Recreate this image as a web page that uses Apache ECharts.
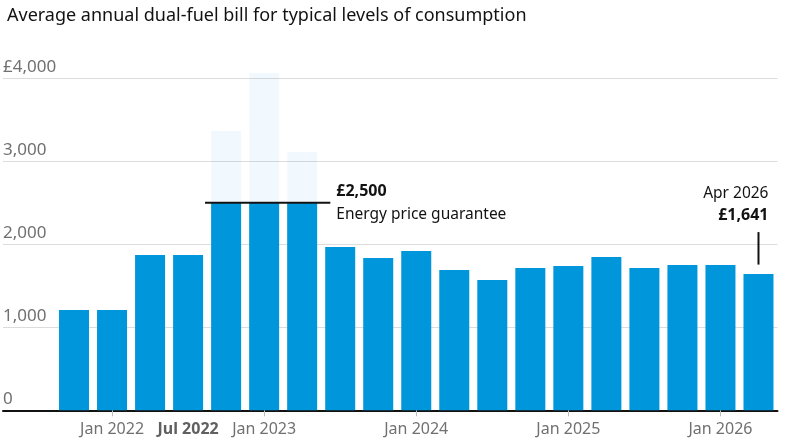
<!DOCTYPE html>
<html><head><meta charset="utf-8">
<script src="https://cdn.jsdelivr.net/npm/echarts@6/dist/echarts.min.js"></script>
<style>html,body{margin:0;padding:0;background:#fff}#c{width:787px;height:445px}</style>
</head><body><div id="c"></div>
<script>
const titleText = "Average annual dual-fuel bill for typical levels of consumption";
const categories = ["Oct 2021","Jan 2022","Apr 2022","Jul 2022","Oct 2022","Jan 2023","Apr 2023","Jul 2023","Oct 2023","Jan 2024","Apr 2024","Jul 2024","Oct 2024","Jan 2025","Apr 2025","Jul 2025","Oct 2025","Jan 2026","Apr 2026"];
const billValues = [1208,1208,1872,1872,2500,2500,2500,1967,1835,1920,1690,1570,1714,1739,1847,1714,1751,1751,1641];
const uncappedValues = [null,null,null,null,3365,4064,3112,null,null,null,null,null,null,null,null,null,null,null,null];
const yTicks = [0,1000,2000,3000,4000];
const labelCategories = ["Jan 2022","Jul 2022","Jan 2023","Jan 2024","Jan 2025","Jan 2026"];
const boldCategories = ["Jul 2022"];
const tickCategories = ["Jan 2022","Jan 2023","Jan 2024","Jan 2025","Jan 2026"];
const epgRange = [4, 6];
const epgValue = 2500;
const epgLabels = ["£2,500", "Energy price guarantee"];
const latestIndex = 18;
const latestValue = 1641;
const latestLabels = ["Apr 2026", "£1,641"];

const FONT = '"Noto Sans", sans-serif';
const chart = echarts.init(document.getElementById('c'), null, {renderer: 'canvas'});

function fmtY(v) {
  const s = v.toLocaleString('en-GB');
  return v === yTicks[yTicks.length - 1] ? '£' + s : s;
}

const gridTop = 78.3, gridBottom = 445 - 410.3;

chart.setOption({
  animation: false,
  title: {
    text: titleText, left: 2, top: 2,
    textStyle: {fontFamily: FONT, fontSize: 18, fontWeight: 'normal', color: '#121212'}
  },
  grid: [
    {left: 3, right: 9.5, top: gridTop, bottom: gridBottom},
    {left: 55, right: 9.5, top: gridTop, bottom: gridBottom}
  ],
  xAxis: [
    {type: 'value', gridIndex: 0, min: 0, max: 1,
     axisLine: {show: true, lineStyle: {color: '#121212', width: 2}},
     axisTick: {show: false}, axisLabel: {show: false}, splitLine: {show: false}},
    {type: 'category', gridIndex: 1, data: categories,
     axisLine: {show: false},
     axisTick: {show: true, alignWithLabel: true, length: 6,
                interval: (i, v) => tickCategories.includes(v),
                lineStyle: {color: '#bdbdbd', width: 1}},
     axisLabel: {interval: (i, v) => labelCategories.includes(v), margin: 11,
                 fontFamily: FONT, fontSize: 16, color: '#707070',
                 formatter: v => boldCategories.includes(v) ? '{b|' + v + '}' : v,
                 rich: {b: {fontFamily: FONT, fontSize: 16, fontWeight: 'bold', color: '#606060'}}},
     splitLine: {show: false}}
  ],
  yAxis: [
    {type: 'value', gridIndex: 0, min: 0, max: 4000, interval: 1000,
     axisLine: {show: false}, axisTick: {show: false},
     splitLine: {show: true, lineStyle: {color: '#dcdcdc', width: 1}},
     axisLabel: {inside: true, margin: 0, verticalAlign: 'bottom', align: 'left',
                 padding: [0, 0, 3, 0], lineHeight: 17,
                 fontFamily: FONT, fontSize: 17, color: '#707070', formatter: fmtY}},
    {type: 'value', gridIndex: 1, min: 0, max: 4000, interval: 1000, show: false}
  ],
  series: [
    {type: 'bar', name: 'uncapped', xAxisIndex: 1, yAxisIndex: 1, data: uncappedValues,
     barWidth: 30, barGap: '-100%', clip: false, itemStyle: {color: 'rgba(0,140,230,0.055)'}, silent: true},
    {type: 'bar', name: 'bill', xAxisIndex: 1, yAxisIndex: 1, data: billValues,
     barWidth: 30, barGap: '-100%', itemStyle: {color: '#0096db'}},
    {type: 'custom', xAxisIndex: 1, yAxisIndex: 1, z: 10,
     data: [[epgRange[0], epgRange[1], epgValue]],
     encode: {x: [0, 1], y: 2},
     renderItem: (params, api) => {
       const a = api.coord([api.value(0), api.value(2)]);
       const b = api.coord([api.value(1), api.value(2)]);
       const band = api.size([1, 0])[0];
       const x1 = a[0] - band * 0.555, x2 = b[0] + band * 0.74;
       const y = a[1];
       return {type: 'group', children: [
         {type: 'line', shape: {x1: x1, y1: y, x2: x2, y2: y}, style: {stroke: '#121212', lineWidth: 2}},
         {type: 'text', style: {text: epgLabels[0], x: x2 + 6, y: y - 11.5, align: 'left', verticalAlign: 'middle',
           fontFamily: FONT, fontSize: 16, fontWeight: 'bold', fill: '#121212'}},
         {type: 'text', style: {text: epgLabels[1], x: x2 + 6, y: y + 12, align: 'left', verticalAlign: 'middle',
           fontFamily: FONT, fontSize: 15.5, fill: '#121212'}}
       ]};
     }},
    {type: 'custom', xAxisIndex: 1, yAxisIndex: 1, z: 10,
     data: [[latestIndex, latestValue]],
     encode: {x: 0, y: 1},
     renderItem: (params, api) => {
       const p = api.coord([api.value(0), api.value(1)]);
       const x = p[0], top = p[1];
       return {type: 'group', children: [
         {type: 'line', shape: {x1: x, y1: top - 9.5, x2: x, y2: top - 42}, style: {stroke: '#121212', lineWidth: 2}},
         {type: 'text', style: {text: latestLabels[0], x: x + 10, y: top - 81, align: 'right', verticalAlign: 'middle',
           fontFamily: FONT, fontSize: 15.5, fill: '#121212'}},
         {type: 'text', style: {text: latestLabels[1], x: x + 10, y: top - 58.5, align: 'right', verticalAlign: 'middle',
           fontFamily: FONT, fontSize: 16, fontWeight: 'bold', fill: '#121212'}}
       ]};
     }}
  ]
});
</script></body></html>
